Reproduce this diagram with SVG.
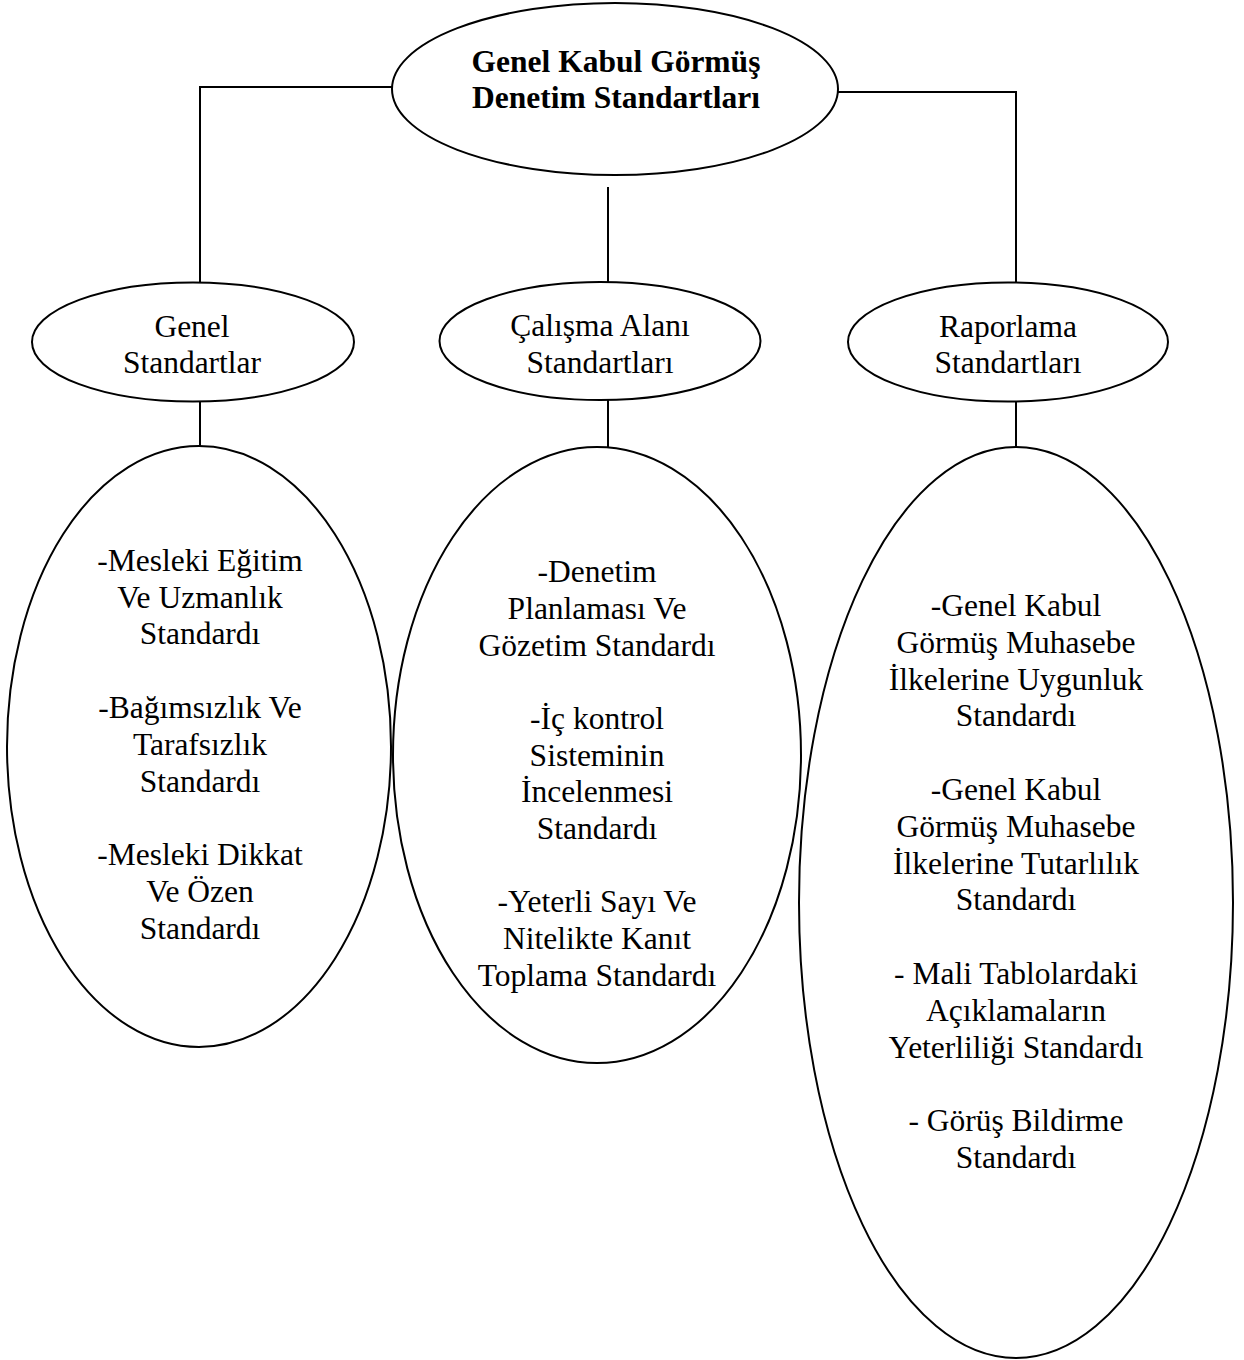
<svg xmlns="http://www.w3.org/2000/svg" width="1244" height="1360" viewBox="0 0 1244 1360">
<style>
.shape{fill:none;stroke:#000;stroke-width:2}
.conn{fill:none;stroke:#000;stroke-width:2}
text{font-family:"Liberation Serif","Times New Roman",serif;font-size:31.5px;fill:#000;text-anchor:middle}
.b{font-weight:bold}
</style>
<rect width="1244" height="1360" fill="#fff"/>
<g id="connectors">
<polyline class="conn" points="392,87 200,87 200,283"/>
<polyline class="conn" points="838,92 1016,92 1016,283"/>
<line class="conn" x1="608" y1="187" x2="608" y2="282"/>
<line class="conn" x1="200" y1="401" x2="200" y2="447"/>
<line class="conn" x1="608" y1="400" x2="608" y2="447"/>
<line class="conn" x1="1016" y1="401" x2="1016" y2="447"/>
</g>
<g id="root">
<ellipse class="shape" cx="615" cy="89" rx="223" ry="86"/>
<text class="b" x="616" y="72">Genel Kabul Görmüş</text>
<text class="b" x="616" y="108">Denetim Standartları</text>
</g>
<g id="genel">
<ellipse class="shape" cx="193" cy="342" rx="161" ry="59.5"/>
<text x="192" y="337">Genel</text>
<text x="192" y="373">Standartlar</text>
</g>
<g id="calisma">
<ellipse class="shape" cx="600" cy="341" rx="160.5" ry="59"/>
<text x="600" y="336">Çalışma Alanı</text>
<text x="600" y="373">Standartları</text>
</g>
<g id="raporlama">
<ellipse class="shape" cx="1008" cy="342" rx="160" ry="59.5"/>
<text x="1008" y="337">Raporlama</text>
<text x="1008" y="373">Standartları</text>
</g>
<g id="genel-detail">
<ellipse class="shape" cx="199" cy="746.5" rx="192" ry="300.5"/>
<text x="200" y="570.7">-Mesleki Eğitim</text>
<text x="200" y="607.5">Ve Uzmanlık</text>
<text x="200" y="644.3">Standardı</text>
<text x="200" y="717.9">-Bağımsızlık Ve</text>
<text x="200" y="754.7">Tarafsızlık</text>
<text x="200" y="791.5">Standardı</text>
<text x="200" y="865.1">-Mesleki Dikkat</text>
<text x="200" y="901.9">Ve Özen</text>
<text x="200" y="938.7">Standardı</text>
</g>
<g id="calisma-detail">
<ellipse class="shape" cx="597" cy="755" rx="204" ry="308"/>
<text x="597" y="582.3">-Denetim</text>
<text x="597" y="619">Planlaması Ve</text>
<text x="597" y="655.7">Gözetim Standardı</text>
<text x="597" y="728.8">-İç kontrol</text>
<text x="597" y="765.5">Sisteminin</text>
<text x="597" y="802.2">İncelenmesi</text>
<text x="597" y="838.9">Standardı</text>
<text x="597" y="912.3">-Yeterli Sayı Ve</text>
<text x="597" y="949">Nitelikte Kanıt</text>
<text x="597" y="985.7">Toplama Standardı</text>
</g>
<g id="raporlama-detail">
<ellipse class="shape" cx="1016" cy="902.5" rx="217" ry="455.5"/>
<text x="1016" y="616">-Genel Kabul</text>
<text x="1016" y="652.8">Görmüş Muhasebe</text>
<text x="1016" y="689.6">İlkelerine Uygunluk</text>
<text x="1016" y="726.4">Standardı</text>
<text x="1016" y="800">-Genel Kabul</text>
<text x="1016" y="836.8">Görmüş Muhasebe</text>
<text x="1016" y="873.6">İlkelerine Tutarlılık</text>
<text x="1016" y="910.4">Standardı</text>
<text x="1016" y="984">- Mali Tablolardaki</text>
<text x="1016" y="1020.8">Açıklamaların</text>
<text x="1016" y="1057.6">Yeterliliği Standardı</text>
<text x="1016" y="1131.2">- Görüş Bildirme</text>
<text x="1016" y="1168">Standardı</text>
</g>
</svg>
